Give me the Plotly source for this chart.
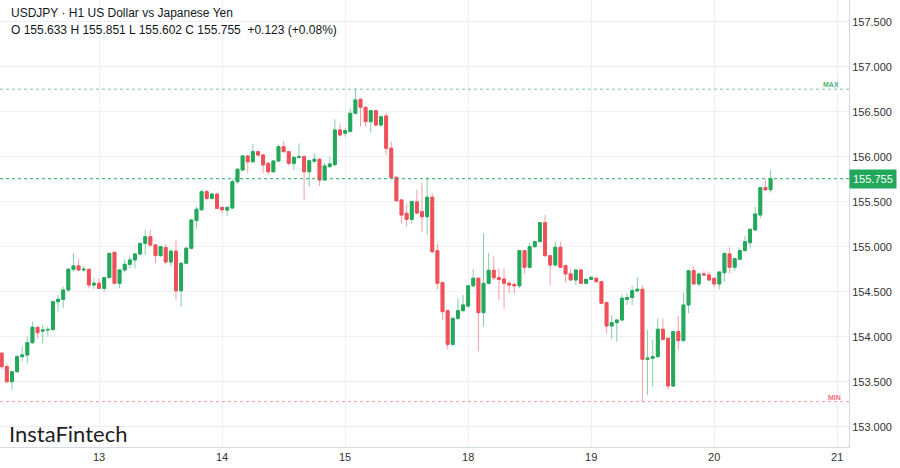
import plotly.graph_objects as go

# ---------------- data (USDJPY H1) ----------------
opens = [153.816, 153.667, 153.500, 153.611, 153.778, 153.797, 153.933, 154.104, 154.062, 154.074,
         154.080, 154.389, 154.415, 154.519, 154.749, 154.786, 154.741, 154.749, 154.574, 154.593,
         154.537, 154.656, 154.938, 154.593, 154.741, 154.804, 154.852, 154.919, 155.037, 155.111,
         155.019, 154.900, 154.990, 154.830, 154.950, 154.510, 154.815, 154.982, 155.290, 155.410,
         155.611, 155.537, 155.585, 155.437, 155.407, 155.430, 155.722, 155.852, 156.008, 155.944,
         156.056, 156.019, 155.926, 155.833, 155.952, 156.111, 156.056, 155.926, 155.993, 156.000,
         155.833, 155.950, 155.971, 155.741, 155.890, 155.910, 156.297, 156.260, 156.280, 156.482,
         156.637, 156.548, 156.389, 156.511, 156.352, 156.452, 156.093, 155.771, 155.519, 155.371,
         155.304, 155.497, 155.389, 155.333, 155.549, 154.956, 154.600, 154.289, 153.915, 154.204,
         154.289, 154.340, 154.565, 154.649, 154.267, 154.593, 154.737, 154.655, 154.640, 154.593,
         154.580, 154.565, 154.956, 154.771, 155.000, 155.056, 155.267, 154.900, 154.796, 154.993,
         154.790, 154.697, 154.630, 154.741, 154.593, 154.637, 154.649, 154.611, 154.378, 154.119,
         154.156, 154.185, 154.415, 154.434, 154.508, 154.527, 153.749, 153.760, 153.778, 154.082,
         153.982, 153.452, 154.056, 153.956, 154.352, 154.733, 154.586, 154.697, 154.686, 154.649,
         154.586, 154.711, 154.919, 154.771, 154.860, 154.956, 155.044, 155.186, 155.352, 155.656,
         155.633]
highs = [153.830, 153.700, 153.620, 153.800, 153.889, 154.000, 154.167, 154.110, 154.130, 154.111,
         154.400, 154.463, 154.556, 154.760, 154.926, 154.860, 154.786, 154.755, 154.649, 154.649,
         154.660, 154.930, 154.940, 154.750, 154.860, 154.889, 154.930, 155.040, 155.186, 155.186,
         155.030, 155.010, 155.030, 154.970, 155.070, 154.830, 155.000, 155.300, 155.450, 155.630,
         155.630, 155.600, 155.600, 155.440, 155.440, 155.750, 155.870, 156.020, 156.020, 156.141,
         156.070, 156.030, 155.940, 155.960, 156.130, 156.174, 156.060, 156.000, 156.148, 156.020,
         155.960, 156.037, 155.980, 155.930, 156.000, 156.415, 156.370, 156.315, 156.538, 156.750,
         156.650, 156.560, 156.520, 156.520, 156.450, 156.489, 156.167, 155.778, 155.530, 155.482,
         155.510, 155.630, 155.711, 155.778, 155.593, 155.037, 154.610, 154.300, 154.210, 154.426,
         154.463, 154.570, 154.749, 154.660, 155.149, 154.930, 154.889, 154.760, 154.760, 154.620,
         154.600, 154.960, 154.960, 155.044, 155.070, 155.270, 155.352, 154.910, 155.056, 155.056,
         154.800, 154.749, 154.745, 154.750, 154.640, 154.670, 154.655, 154.620, 154.390, 154.241,
         154.190, 154.470, 154.482, 154.563, 154.660, 154.574, 154.074, 153.963, 154.204, 154.204,
         153.990, 154.060, 154.230, 154.489, 154.740, 154.786, 154.700, 154.733, 154.722, 154.650,
         154.720, 154.930, 154.993, 154.870, 154.982, 155.119, 155.200, 155.444, 155.660, 155.749,
         155.851]
lows = [153.640, 153.480, 153.408, 153.600, 153.722, 153.704, 153.920, 153.982, 153.926, 154.000,
        154.060, 154.278, 154.315, 154.500, 154.722, 154.735, 154.720, 154.537, 154.527, 154.527,
        154.500, 154.650, 154.590, 154.537, 154.711, 154.760, 154.760, 154.900, 154.908, 155.000,
        154.815, 154.890, 154.800, 154.780, 154.408, 154.333, 154.800, 154.970, 155.200, 155.400,
        155.520, 155.520, 155.420, 155.370, 155.341, 155.420, 155.700, 155.840, 155.815, 155.930,
        156.000, 155.815, 155.796, 155.820, 155.940, 156.040, 155.900, 155.852, 155.980, 155.519,
        155.667, 155.930, 155.674, 155.730, 155.870, 155.900, 156.222, 156.222, 156.270, 156.470,
        156.333, 156.333, 156.267, 156.333, 156.333, 156.019, 155.760, 155.500, 155.259, 155.222,
        155.259, 155.360, 155.167, 155.130, 154.930, 154.526, 154.185, 153.856, 153.900, 154.185,
        154.280, 154.320, 154.550, 153.840, 154.111, 154.580, 154.630, 154.408, 154.310, 154.482,
        154.480, 154.540, 154.700, 154.760, 154.980, 155.050, 154.890, 154.574, 154.780, 154.760,
        154.600, 154.620, 154.574, 154.590, 154.580, 154.630, 154.600, 154.360, 154.037, 153.971,
        153.944, 154.180, 154.352, 154.352, 154.500, 153.278, 153.352, 153.444, 153.770, 153.960,
        153.407, 153.440, 153.852, 153.950, 154.260, 154.580, 154.556, 154.680, 154.620, 154.549,
        154.527, 154.611, 154.704, 154.730, 154.850, 154.950, 154.990, 155.180, 155.315, 155.620,
        155.602]
closes = [153.667, 153.500, 153.611, 153.778, 153.797, 153.933, 154.104, 154.044, 154.074, 154.080,
          154.389, 154.415, 154.519, 154.749, 154.786, 154.741, 154.749, 154.574, 154.593, 154.537,
          154.656, 154.926, 154.593, 154.741, 154.804, 154.852, 154.919, 155.037, 155.111, 155.019,
          154.900, 155.000, 154.830, 154.950, 154.510, 154.815, 154.982, 155.297, 155.416, 155.611,
          155.537, 155.585, 155.426, 155.410, 155.437, 155.722, 155.860, 156.008, 155.944, 156.056,
          156.019, 155.908, 155.833, 155.952, 156.111, 156.056, 155.926, 155.993, 156.000, 155.833,
          155.955, 155.971, 155.741, 155.897, 155.919, 156.297, 156.241, 156.289, 156.482, 156.630,
          156.548, 156.389, 156.511, 156.352, 156.444, 156.093, 155.771, 155.511, 155.352, 155.304,
          155.500, 155.374, 155.333, 155.549, 154.944, 154.593, 154.278, 153.915, 154.204, 154.289,
          154.352, 154.565, 154.649, 154.267, 154.593, 154.737, 154.655, 154.637, 154.593, 154.574,
          154.565, 154.956, 154.771, 155.000, 155.056, 155.267, 154.900, 154.796, 154.993, 154.771,
          154.697, 154.630, 154.741, 154.593, 154.637, 154.659, 154.611, 154.371, 154.119, 154.156,
          154.185, 154.427, 154.434, 154.511, 154.527, 153.749, 153.760, 153.778, 154.082, 153.971,
          153.452, 154.056, 153.956, 154.352, 154.733, 154.586, 154.697, 154.686, 154.630, 154.586,
          154.719, 154.926, 154.771, 154.867, 154.956, 155.056, 155.193, 155.363, 155.656, 155.632,
          155.755]

day_labels = ["13", "14", "15", "18", "19", "20", "21"]
day_start_bar = [19, 43, 67, 91, 115, 139, 163]
y_ticks = [153.0, 153.5, 154.0, 154.5, 155.0, 155.5, 156.0, 156.5, 157.0, 157.5]

header_title = "USDJPY \u00b7 H1 US Dollar vs Japanese Yen"
brand = "InstaFintech"

# ---------------- figure ----------------
GREEN = "#22a85b"
RED = "#f0505a"
GREEN_W = "rgba(34,168,91,0.55)"
RED_W = "rgba(240,80,90,0.55)"

n = len(closes)
xs = list(range(n))
body_hi = [max(o, c) for o, c in zip(opens, closes)]
body_lo = [min(o, c) for o, c in zip(opens, closes)]

fig = go.Figure()
# wicks (lighter)
fig.add_trace(go.Candlestick(
    x=xs, open=opens, high=highs, low=lows, close=closes,
    increasing=dict(line=dict(color=GREEN_W, width=1), fillcolor="rgba(0,0,0,0)"),
    decreasing=dict(line=dict(color=RED_W, width=1), fillcolor="rgba(0,0,0,0)"),
    hoverinfo="skip", showlegend=False))
# bodies (solid)
fig.add_trace(go.Candlestick(
    x=xs, open=opens, high=body_hi, low=body_lo, close=closes,
    increasing=dict(line=dict(color=GREEN, width=1), fillcolor=GREEN),
    decreasing=dict(line=dict(color=RED, width=1), fillcolor=RED),
    hoverinfo="skip", showlegend=False))

last_close = closes[-1]
prev_close = closes[-2]
max_high = max(highs)
min_low = min(lows)

shapes = [
    dict(type="line", xref="paper", x0=0, x1=1, yref="y", y0=last_close, y1=last_close,
         line=dict(color=GREEN, width=1, dash="dot")),
    dict(type="line", xref="paper", x0=0, x1=1, yref="y", y0=max_high, y1=max_high,
         line=dict(color="rgba(34,168,91,0.6)", width=1, dash="dot")),
    dict(type="line", xref="paper", x0=0, x1=1, yref="y", y0=min_low, y1=min_low,
         line=dict(color="rgba(240,80,90,0.6)", width=1, dash="dot")),
]

PLOT_H = 447.0
def py(px):
    return 1 - px / PLOT_H

chg = last_close - prev_close
annotations = [
    dict(text=header_title, xref="paper", yref="paper", x=9 / 849, y=py(13),
         xanchor="left", yanchor="middle", showarrow=False,
         font=dict(family="Liberation Sans, Arial", size=12, color="#131722")),
    dict(text=f"O {opens[-1]:.3f} H {highs[-1]:.3f} L {lows[-1]:.3f} C {closes[-1]:.3f}  "
              f"{chg:+.3f} ({chg / prev_close * 100:+.2f}%)",
         xref="paper", yref="paper", x=9 / 849, y=py(30),
         xanchor="left", yanchor="middle", showarrow=False,
         font=dict(family="Liberation Sans, Arial", size=12, color="#131722")),
    dict(text=brand, xref="paper", yref="paper", x=7 / 849, y=py(433),
         xanchor="left", yanchor="middle", showarrow=False,
         font=dict(family="Lato", size=22, color="#1e1e1e")),
    dict(text=f"{last_close:.3f}", xref="paper", yref="y", x=1, y=last_close,
         xanchor="left", yanchor="middle", showarrow=False, xshift=0,
         bgcolor=GREEN, borderpad=3,
         font=dict(family="Liberation Sans, Arial", size=11, color="white")),
    dict(text="<b>MAX</b>", xref="paper", yref="y", x=841 / 849, y=max_high,
         xanchor="right", yanchor="bottom", showarrow=False, yshift=-1,
         font=dict(family="Liberation Sans, Arial", size=7, color="rgba(34,168,91,0.85)")),
    dict(text="<b>MIN</b>", xref="paper", yref="y", x=843 / 849, y=min_low,
         xanchor="right", yanchor="bottom", showarrow=False, yshift=-1,
         font=dict(family="Liberation Sans, Arial", size=7, color="rgba(240,80,90,0.85)")),
]

fig.update_layout(
    width=900, height=468,
    margin=dict(l=0, r=51, t=0, b=21),
    paper_bgcolor="white", plot_bgcolor="white",
    boxgap=0.2,
    shapes=shapes, annotations=annotations,
    font=dict(family="Liberation Sans, Arial", size=11, color="#333"),
    xaxis=dict(
        range=[-0.33, 165.3], rangeslider=dict(visible=False),
        tickmode="array", tickvals=day_start_bar, ticktext=day_labels,
        showgrid=True, gridcolor="#eef0f4", gridwidth=1,
        showline=True, linecolor="#d5dbe5", linewidth=1,
        zeroline=False, ticks="", tickfont=dict(size=11, color="#333"),
        fixedrange=True,
    ),
    yaxis=dict(
        side="right", range=[152.774, 157.741],
        tickmode="array", tickvals=y_ticks, ticktext=[f"{v:.3f}" for v in y_ticks],
        showgrid=True, gridcolor="#eef0f4", gridwidth=1,
        showline=True, linecolor="#d5dbe5", linewidth=1,
        zeroline=False, ticks="", tickfont=dict(size=11, color="#333"),
        fixedrange=True,
    ),
)

fig.write_html("out.html",
               config={"displayModeBar": False, "staticPlot": True},
               post_script="document.body.style.margin='0';document.body.style.padding='0';")
